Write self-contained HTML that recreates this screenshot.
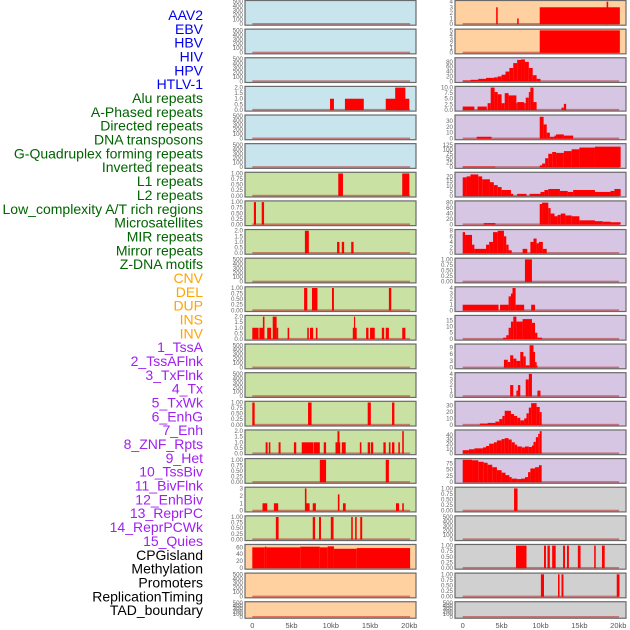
<!DOCTYPE html>
<html><head><meta charset="utf-8"><style>
html,body{margin:0;padding:0;background:#fff;}
svg{display:block;font-family:"Liberation Sans",sans-serif;}
</style></head><body>
<svg id="chart" width="630" height="630" viewBox="0 0 630 630" xmlns="http://www.w3.org/2000/svg"></svg>
<script>
const labels = ["AAV2","EBV","HBV","HIV","HPV","HTLV-1","Alu repeats","A-Phased repeats","Directed repeats","DNA transposons","G-Quadruplex forming repeats","Inverted repeats","L1 repeats","L2 repeats","Low_complexity A/T rich regions","Microsatellites","MIR repeats","Mirror repeats","Z-DNA motifs","CNV","DEL","DUP","INS","INV","1_TssA","2_TssAFlnk","3_TxFlnk","4_Tx","5_TxWk","6_EnhG","7_Enh","8_ZNF_Rpts","9_Het","10_TssBiv","11_BivFlnk","12_EnhBiv","13_ReprPC","14_ReprPCWk","15_Quies","CPGisland","Methylation","Promoters","ReplicationTiming","TAD_boundary"];
const labelGroups = [6,13,5,15,5];
const xTickLabels = ["0","5kb","10kb","15kb","20kb"];
const xTickValues = [0,5,10,15,20];

const tEmpty = ["0","100","200","300","400","500"];
const tUnit = ["0.00","0.25","0.50","0.75","1.00"];
const tTwo = ["0.0","0.5","1.0","1.5","2.0"];

// segments: [startKb, endKb, value]
const segL4 = [[9.9,10.4,1],[11.8,14.2,1],[17.0,20.0,1],[18.2,19.5,2]];
const segL7 = [[10.95,11.55,1],[19.1,20.0,1]];
const segL8 = [[0.2,0.47,1],[1.2,1.5,1]];
const segL9 = [[6.7,7.2,2],[10.8,11.1,1],[11.4,11.7,1],[12.6,12.9,1]];
const segL11 = [[6.6,7.0,1],[7.6,8.3,1],[10.15,10.4,1],[17.4,17.7,1]];
const segL12 = [[0,0.8,1],[0.9,1.5,1],[1.35,1.55,2],[1.9,2.4,1],[2.6,3.1,2],[3.1,3.3,1],[4.5,4.7,1],[7.0,7.2,1],[7.35,7.75,1],[8.1,8.3,1],[12.8,13.3,1],[12.95,13.1,2],[14.5,14.8,1],[15.0,15.6,1],[16.5,16.8,1],[17.0,17.4,1],[19.1,19.5,1]];
const segL15 = [[0,0.3,1],[7.1,7.55,1],[14.7,15.1,1],[17.8,18.1,1]];
const segL16 = [[1.7,1.95,1],[2.1,2.3,1],[3.35,3.6,1],[5.3,5.6,1],[6.3,7.8,1],[7.85,8.6,1],[9.1,9.4,1],[10.6,11.2,1],[10.85,11.1,2],[11.4,11.9,1],[13.7,13.9,1],[14.7,15.0,1],[15.1,15.4,1],[16.7,17.0,1],[17.4,17.6,1],[17.8,18.1,1],[18.6,18.8,1],[19.1,19.3,2]];
const segL17 = [[8.6,9.4,1],[17.0,17.4,1]];
const segL18 = [[1.3,1.9,1],[2.75,3.3,1],[6.7,6.9,3],[6.85,7.3,1],[7.7,8.1,1],[10.9,11.1,2.2],[11.55,11.9,1],[18.3,18.7,1],[19.1,19.3,1]];
const segL19 = [[3.0,3.35,1],[7.7,8.0,1],[8.5,8.75,1],[10.0,10.35,1],[12.6,12.8,1],[13.1,13.3,1],[13.75,14.0,1]];
const segL20 = [[0,1.6,60],[1.6,1.8,62],[1.8,6.1,60],[6.1,8.6,62],[8.6,9.6,60],[9.6,10.4,63],[10.4,13.3,56],[13.3,20.1,58]];

const segR1 = [[4.3,4.5,3],[7.0,7.2,1],[9.9,20.2,3],[18.5,18.7,4]];
const segR2 = [[9.9,20.2,5]];
const segR3 = [[0,1,3],[1,2,6],[2,3,10],[3,4,14],[4,4.5,16],[4.5,5,20],[5,5.5,27],[5.5,6,40],[6,6.5,55],[6.5,7,75],[7,7.5,88],[7.5,8,90],[8,8.5,80],[8.5,9,55],[9,9.5,25],[9.5,10,10]];
const segR4 = [[0,1.5,1.5],[1.9,3.1,1.5],[3.2,3.6,3],[3.6,4.1,10],[4.1,4.5,8],[4.5,5,7],[5,5.4,3],[5.4,5.9,7.5],[5.9,6.9,6.5],[6.9,7.0,3],[7,7.9,3.5],[7.9,8.1,3],[8.1,8.5,5.5],[8.5,8.7,8],[8.7,9.1,10],[9.1,9.5,3.5],[12.7,13.0,1],[13.0,13.3,2.7]];
const segR5 = [[1.8,3.7,3],[9.9,10.4,37],[10.4,10.8,24],[10.8,11.2,10],[11.2,11.8,3],[11.8,12.0,5],[12.0,13.0,7],[13.0,14.2,5]];
const segR6 = [[0,4.2,3],[9.9,10.2,10],[10.2,10.6,20],[10.6,11,50],[11,11.5,75],[11.5,12,85],[12,13,80],[13,14,90],[14,15,100],[15,17,110],[17,20.3,115]];
const segR7 = [[0,0.5,19],[0.5,1,20],[1,2,22],[2,2.5,20],[2.5,3.5,17],[3.5,4,14],[4,4.5,11],[4.5,5,9],[5,6.2,6],[6.2,6.5,2],[7,8.2,2],[8.6,10,2],[10,10.5,4],[10.5,11,6],[11,12.5,7],[12.5,13.5,5],[13.5,14.2,4],[14.2,17,6],[17,19,4],[19,19.5,5],[19.5,20.3,7]];
const segR8 = [[2.7,4.2,5],[9.9,10.2,75],[10.2,11,80],[11,11.3,60],[11.3,11.8,40],[11.8,12.2,30],[12.2,12.6,35],[12.6,13.2,40],[13.2,14,33],[14,15,30],[15,17,15],[17,18,12],[18,19,10],[19,20.3,8]];
const segR9 = [[0,0.3,7.5],[0.3,1.2,6.5],[1.2,1.5,3],[1.5,3.0,1.5],[3,3.4,3],[3.4,3.9,4],[3.9,4.5,7.5],[4.5,5.3,8],[5.3,5.6,6],[5.6,5.9,3],[5.9,6.3,1],[7.7,8.3,1.5],[8.7,9.1,4],[9.1,9.5,5.2],[9.5,9.8,3.5],[9.8,10.3,4],[10.3,10.8,1.5]];
const segR10 = [[8.0,8.9,1]];
const segR11 = [[0,4.6,1],[4.8,5.9,1],[5.9,6.2,2.5],[6.2,6.4,3],[6.4,6.8,4],[6.8,7.9,1],[8.8,9.3,1]];
const segR12 = [[5.2,5.6,1],[5.6,5.9,3],[5.9,6.2,9],[6.2,6.5,14],[6.5,6.9,18],[6.9,7.7,14],[7.7,8.9,16],[8.9,9.3,13],[9.3,9.6,5],[9.6,10.2,1]];
const segR13 = [[5.3,5.8,3.5],[5.8,6.1,2.5],[6.1,6.5,5.5],[6.5,6.9,4],[6.9,7.4,3],[7.4,7.8,7],[7.8,8.1,5],[8.1,8.6,1],[8.6,9.1,10],[9.1,9.3,7],[9.3,9.5,2.5],[9.5,9.6,1]];
const segR14 = [[6.1,6.5,2],[6.9,7.1,1],[7.1,7.4,2],[8.1,8.5,3],[8.5,8.9,4],[9.6,10.0,1]];
const segR15 = [[2.2,3.2,2],[3.2,4.2,3],[4.2,4.7,5],[4.7,5.1,9],[5.1,5.4,14],[5.4,6.2,22],[6.2,6.6,17],[6.6,7.0,14],[7.0,7.4,11],[7.4,7.9,7],[7.9,8.2,10],[8.2,8.5,18],[8.5,8.8,27],[8.8,9.5,34],[9.5,9.9,28],[9.9,10.15,20]];
const segR16 = [[0,0.8,7],[0.8,1.5,9],[1.5,2.6,11],[2.6,3.0,13],[3.0,3.4,16],[3.4,4.0,21],[4.0,4.4,24],[4.4,5.0,28],[5.0,5.4,31],[5.4,5.9,33],[5.9,6.3,30],[6.3,6.7,24],[6.7,7.0,19],[7.0,7.6,15],[7.6,8.0,13],[8.0,8.5,15],[8.5,8.9,14],[8.9,9.1,17],[9.1,9.4,25],[9.4,9.7,35],[9.7,9.9,42],[9.9,10.15,48]];
const segR17 = [[0,1.2,90],[1.2,2.0,88],[2.0,2.7,82],[2.7,3.2,78],[3.2,3.8,70],[3.8,4.4,60],[4.4,5.0,48],[5.0,5.5,38],[5.5,6.0,28],[6.0,6.3,20],[6.3,7.0,14],[7.0,7.5,12],[7.5,8.0,14],[8.0,8.4,20],[8.4,8.7,40],[8.7,9.3,55],[9.3,9.8,60],[9.8,10.15,68]];
const segR18 = [[6.6,7.05,1]];
const segR20 = [[6.85,8.2,1],[10.45,10.7,1],[10.9,11.2,1],[11.5,11.95,1],[12.9,13.15,1],[13.4,13.65,1],[14.8,15.15,1],[16.9,17.1,1],[17.9,18.25,1]];
const segR21 = [[10.05,10.45,1],[12.25,12.45,1],[12.7,12.95,1],[19.8,20.15,1]];

const BLUE="#c8e4ec", GREEN="#c9e1a2", ORANGE="#ffd1a0", PURPLE="#d6c6e3", GRAY="#d0d0d0";
// [col, row, bg, ymax, tickLabels, tickMax, segments]
const panels = [
 ["L",0,BLUE,500,tEmpty,500,[]],["L",1,BLUE,500,tEmpty,500,[]],["L",2,BLUE,500,tEmpty,500,[]],
 ["L",3,BLUE,2,tTwo,2,segL4],["L",4,BLUE,500,tEmpty,500,[]],["L",5,BLUE,500,tEmpty,500,[]],
 ["L",6,GREEN,1,tUnit,1,segL7],["L",7,GREEN,1,tUnit,1,segL8],["L",8,GREEN,2,tTwo,2,segL9],
 ["L",9,GREEN,500,tEmpty,500,[]],["L",10,GREEN,1,tUnit,1,segL11],["L",11,GREEN,2,tTwo,2,segL12],
 ["L",12,GREEN,500,tEmpty,500,[]],["L",13,GREEN,500,tEmpty,500,[]],["L",14,GREEN,1,tUnit,1,segL15],
 ["L",15,GREEN,2,tTwo,2,segL16],["L",16,GREEN,1,tUnit,1,segL17],["L",17,GREEN,3,["0","1","2","3"],3,segL18],
 ["L",18,GREEN,1,tUnit,1,segL19],["L",19,ORANGE,65,["0","20","40","60"],60,segL20],
 ["L",20,ORANGE,500,tEmpty,500,[]],["L",21,ORANGE,500,tEmpty,500,[]],
 ["R",0,ORANGE,4,["0","1","2","3","4"],4,segR1],["R",1,ORANGE,5,["0","1","2","3","4","5"],5,segR2],
 ["R",2,PURPLE,92,["0","20","40","60","80"],80,segR3],["R",3,PURPLE,10,["0.0","2.5","5.0","7.5","10.0"],10,segR4],
 ["R",4,PURPLE,38,["0","10","20","30"],30,segR5],["R",5,PURPLE,125,["0","25","50","75","100","125"],125,segR6],
 ["R",6,PURPLE,23,["0","5","10","15","20"],20,segR7],["R",7,PURPLE,82,["0","20","40","60","80"],80,segR8],
 ["R",8,PURPLE,8,["0","2","4","6","8"],8,segR9],["R",9,PURPLE,1,tUnit,1,segR10],
 ["R",10,PURPLE,4,["0","1","2","3","4"],4,segR11],["R",11,PURPLE,18,["0","5","10","15"],15,segR12],
 ["R",12,PURPLE,10,["0","3","6","9"],9,segR13],["R",13,PURPLE,4,["0","1","2","3","4"],4,segR14],
 ["R",14,PURPLE,35,["0","10","20","30"],30,segR15],["R",15,PURPLE,48,["0","10","20","30","40"],40,segR16],
 ["R",16,PURPLE,90,["0","25","50","75"],75,segR17],["R",17,GRAY,1,tUnit,1,segR18],
 ["R",18,GRAY,500,tEmpty,500,[]],["R",19,GRAY,1,tUnit,1,segR20],["R",20,GRAY,1,tUnit,1,segR21],
 ["R",21,GRAY,500,tEmpty,500,[]]
];

const NS="http://www.w3.org/2000/svg";
const svg=document.getElementById('chart');
function mk(tag,attrs,parent){const e=document.createElementNS(NS,tag);for(const k in attrs)e.setAttribute(k,attrs[k]);(parent||svg).appendChild(e);return e;}
const colX={L:{x0:245,x1:416,z:252.3,s:7.85},R:{x0:455,x1:626,z:462.7,s:7.78}};
function xScale(col,kb){return colX[col].z+kb*colX[col].s;}
function rowTop(r){return 0.5+r*28.63;}
function rowH(r){return r===21?16.5:24.7;}

// labels
const groupColors=["#0000ee","#006400","#ffa500","#a020f0","#000000"];
let li=0;
labelGroups.forEach((n,g)=>{for(let k=0;k<n;k++){
 const t=mk('text',{x:203,y:15+li*13.84+5,'text-anchor':'end','font-size':'14',fill:groupColors[g]});
 
 
 t.textContent=labels[li];li++;}});

panels.forEach(p=>{
 const [col,row,bg,ymax,ticks,tmax,segs]=p;
 const c=colX[col],top=rowTop(row),h=rowH(row),bot=top+h;
 const yS=v=>bot-1.2-(v/ymax)*(h-2.4);
 const g=mk('g',{});
 
 
 mk('rect',{x:c.x0,y:top,width:c.x1-c.x0,height:h,fill:bg},g);
 const base=mk('rect',{x:xScale(col,0),y:bot-2.2,width:xScale(col,20.1)-xScale(col,0),height:1.8,fill:'rgba(185,40,40,0.55)'},g);
 
 
 segs.forEach(s=>{
  const x1=xScale(col,s[0]),x2=xScale(col,s[1]),y=yS(s[2]);
  const r=mk('rect',{x:x1,y:y,width:Math.max(0.8,x2-x1),height:bot-1-y,fill:'#ff0000'},g);
  
  
 });
 mk('rect',{x:c.x0,y:top,width:c.x1-c.x0,height:h,fill:'none',stroke:'#6a6a6a','stroke-width':1.2},g);
 ticks.forEach((t,i)=>{
  const v=tmax*i/(ticks.length-1);
  const tx=mk('text',{x:c.x0-2,y:yS(v)+2,'text-anchor':'end','font-size':'6.2',fill:'#666'},g);
  
  
  tx.textContent=t;
 });
});

["L","R"].forEach(col=>{
 xTickValues.forEach((v,i)=>{
  const t=mk('text',{x:xScale(col,v),y:628,'text-anchor':'middle','font-size':'7.5',fill:'#555'});
  
  
  t.textContent=xTickLabels[i];
 });
});
</script>
</body></html>
